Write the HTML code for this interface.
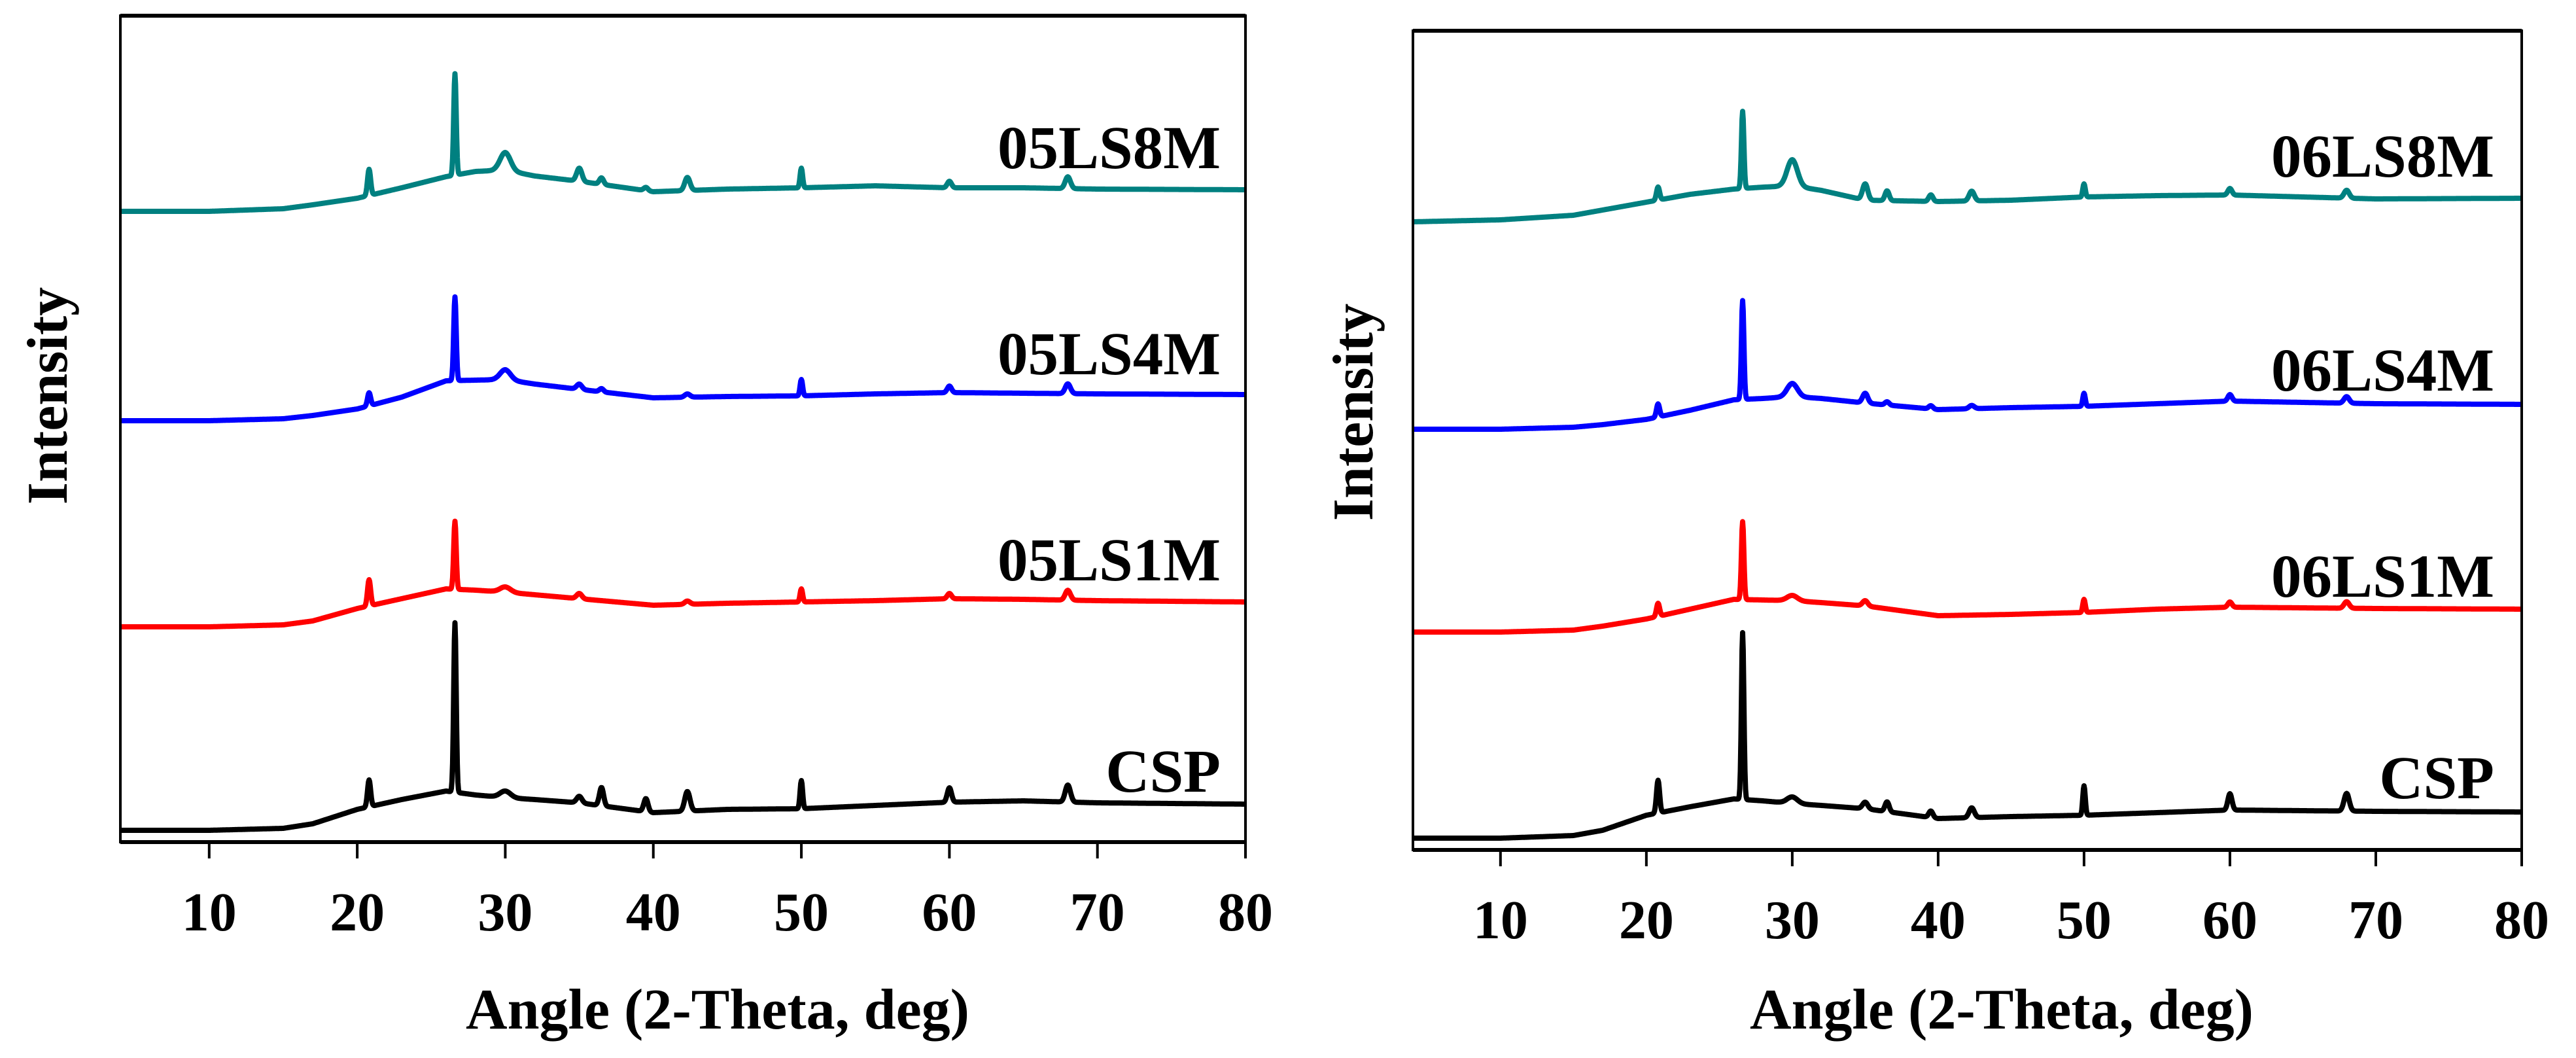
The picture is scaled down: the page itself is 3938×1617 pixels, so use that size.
<!DOCTYPE html>
<html><head><meta charset="utf-8"><style>
html,body{margin:0;padding:0;background:#fff;}
svg{display:block;}
text{font-family:"Liberation Serif",serif;font-weight:bold;fill:#000;}
</style></head><body>
<svg id="chart" width="3938" height="1617" viewBox="0 0 3938 1617" xmlns="http://www.w3.org/2000/svg"></svg>
<script>
// ---- data ----
const baseAngles = [4,10,15,17,20,23,26,28,30,32,35,40,45,50,55,60,65,70,80];
const peakAngles = [20.8,26.6,30,35,36.5,39.5,42.3,50,60,68];
const peakWidths = [0.15,0.12,0.5,0.25,0.2,0.2,0.25,0.12,0.2,0.25];
const xTicks = [10,20,30,40,50,60,70,80];
const xTickLabels = ["10","20","30","40","50","60","70","80"];

// left panel (05)
const leftCSPBase = [18,18,21,28,50,65,78,72,68,65,60,45,50,51,56,61,63,60,58];
const left1MBase  = [329,329,332,338,357,372,387,385,382,378,372,362,365,367,369,372,371,369,367];
const left4MBase  = [644,644,647,652,662,680,705,706,707,700,692,679,681,682,685,687,686,685,684];
const left8MBase  = [964,964,968,974,984,1000,1017,1025,1027,1018,1010,994,998,1000,1003,1000,1000,998,997];
const leftCSPPeaks = [41,259,10,10,28,20,30,43,22,26];
const left1MPeaks  = [40,104,8,8,0,0,5,20,8,15];
const left4MPeaks  = [20,128,15,8,5,0,5,25,10,15];
const left8MPeaks  = [40,155,27,20,10,5,20,30,10,18];
const leftLabels = ["CSP","05LS1M","05LS4M","05LS8M"];
const leftLabelY = [1210,887,572,257];

// right panel (06)
const rightCSPBase = [18,18,22,30,53,66,78,75,71,68,63,48,51,53,57,61,60,59,58];
const right1MBase  = [333,333,336,342,353,368,383,382,381,378,373,358,360,363,368,371,370,369,368];
const right4MBase  = [643,643,646,650,658,672,688,690,693,690,683,673,676,678,682,686,684,682,681];
const right8MBase  = [960,963,970,978,990,1002,1010,1013,1015,1008,993,991,993,998,1000,1001,998,995,996];
const rightCSPPeaks = [50,255,10,10,15,10,15,45,25,27];
const right1MPeaks  = [20,119,8,8,0,0,0,20,8,10];
const right4MPeaks  = [20,151,20,15,5,5,5,20,10,10];
const right8MPeaks  = [20,118,40,25,15,10,15,20,10,12];
const rightLabels = ["CSP","06LS1M","06LS4M","06LS8M"];
const rightLabelY = [1220,912,597,270];

const colors = ["#000000","#ff0000","#0000ff","#008080"];

const NS = "http://www.w3.org/2000/svg";
const svg = document.getElementById("chart");
function mk(tag, attrs, parent){
  const e = document.createElementNS(NS, tag);
  for (const k in attrs) e.setAttribute(k, attrs[k]);
  (parent||svg).appendChild(e);
  return e;
}
function interp(x, xs, ys){
  if (x <= xs[0]) return ys[0];
  for (let i=1;i<xs.length;i++){
    if (x <= xs[i]){ const t=(x-xs[i-1])/(xs[i]-xs[i-1]); return ys[i-1]+t*(ys[i]-ys[i-1]); }
  }
  return ys[ys.length-1];
}

function panel(p){
  const g = mk("g", {});
  
  
  const xs = v => p.x0 + (v-4)/(80-4)*(p.x1-p.x0);
  const ys = v => p.y1 - v;
  for (let s=0;s<4;s++){
    let d = "";
    for (let a=4; a<=80.0001; a+=0.04){
      let v = interp(a, baseAngles, p.bases[s]);
      for (let k=0;k<peakAngles.length;k++){
        const z=(a-peakAngles[k])/peakWidths[k];
        v += p.peaks[s][k]*Math.exp(-z*z);
      }
      d += (d?"L":"M") + xs(a).toFixed(1) + "," + ys(v).toFixed(1);
    }
    const path = mk("path", {d:d, fill:"none", stroke:colors[s], "stroke-width":8, "stroke-linejoin":"round"}, g);
    
    
    const t = mk("text", {x:p.labelX, y:p.labelY[s], "text-anchor":"end", "font-size":93}, g);
    t.textContent = p.labels[s];
    
    
  }
  const fr = mk("rect", {x:p.x0, y:p.y0, width:p.x1-p.x0, height:p.y1-p.y0, fill:"none", stroke:"#000", "stroke-width":4}, g);
  
  
  const top = mk("line", {x1:p.x0, x2:p.x1, y1:p.y0, y2:p.y0, stroke:"#000", "stroke-width":6}, g);
  
  
  const ax = mk("line", {x1:p.x0, x2:p.x1, y1:p.y1, y2:p.y1, stroke:"#000", "stroke-width":6}, g);
  
  
  for (let i=0;i<xTicks.length;i++){
    const x = xs(xTicks[i]);
    const tk = mk("line", {x1:x, x2:x, y1:p.y1, y2:p.y1+25, stroke:"#000", "stroke-width":4}, g);
    
    
    const tl = mk("text", {x:x, y:p.y1+135, "text-anchor":"middle", "font-size":84}, g);
    tl.textContent = xTickLabels[i];
    
    
  }
  const xt = mk("text", {x:p.titleX, y:1572, "text-anchor":"middle", "font-size":88}, g);
  xt.textContent = "Angle (2-Theta, deg)";
  
  
  const yt = mk("text", {x:0, y:0, "text-anchor":"middle", "font-size":88, transform:"translate("+p.yTitleX+","+p.yTitleY+") rotate(-90)"}, g);
  yt.textContent = "Intensity";
  
  
}

panel({name:"left-panel", x0:184, x1:1904, y0:24, y1:1287,
  bases:[leftCSPBase,left1MBase,left4MBase,left8MBase],
  peaks:[leftCSPPeaks,left1MPeaks,left4MPeaks,left8MPeaks],
  labels:leftLabels, labelY:leftLabelY, labelX:1866, titleX:1097, yTitleX:102, yTitleY:605});
panel({name:"right-panel", x0:2160, x1:3855, y0:47, y1:1299,
  bases:[rightCSPBase,right1MBase,right4MBase,right8MBase],
  peaks:[rightCSPPeaks,right1MPeaks,right4MPeaks,right8MPeaks],
  labels:rightLabels, labelY:rightLabelY, labelX:3813, titleX:3060, yTitleX:2098, yTitleY:630});
</script>
</body></html>
